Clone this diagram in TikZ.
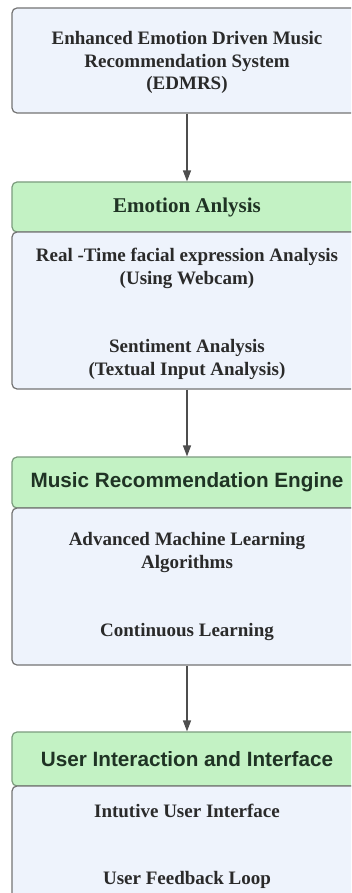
\documentclass[tikz,border=0pt]{standalone}
\usepackage{fontspec}
\setmainfont{Liberation Serif}
\newfontfamily\hsans{Liberation Sans}
\usetikzlibrary{arrows.meta}
\definecolor{bodyfill}{HTML}{EEF3FC}
\definecolor{bodyline}{HTML}{747474}
\definecolor{headfill}{HTML}{C3F2C4}
\definecolor{headline}{HTML}{7C9C7E}
\definecolor{txt}{HTML}{2A2A2A}
\definecolor{htxt}{HTML}{1F3324}
\definecolor{arrowc}{HTML}{4E4E4E}
\tikzset{
  bodybox/.style={draw=bodyline, fill=bodyfill, line width=1.2pt, rounded corners=5pt,
    minimum width=350pt, inner sep=0pt, shape=rectangle},
  headbox/.style={draw=headline, fill=headfill, line width=1.2pt, rounded corners=5pt,
    minimum width=350pt, inner sep=0pt, shape=rectangle, text=htxt},
  serifbf/.style={font=\fontsize{19}{22.5}\selectfont\bfseries, text=txt, align=center},
  serifhead/.style={font=\fontsize{21}{24}\selectfont\bfseries},
  sanshead/.style={font=\hsans\fontsize{20.7}{24}\selectfont\bfseries},
  flow/.style={draw=arrowc, line width=1.3pt, -{Triangle[length=11pt,width=8pt]}}
}
\begin{document}
\begin{tikzpicture}[x=1pt,y=-1pt]
\useasboundingbox (0,0) rectangle (351,893);
\clip (0,0) rectangle (351,893);
\fill[white] (0,0) rectangle (351,893);
% box 1
\node[bodybox, minimum height=105pt] (top) at (187,60.5) {};
\node[serifbf] (toptxt) at (187,62.5)
  {Enhanced Emotion Driven Music\\Recommendation System\\(EDMRS)};
% emotion analysis
\node[headbox, minimum height=50pt, serifhead] (h2) at (187,207) {Emotion Anlysis};
\node[bodybox, minimum height=157pt] (b2) at (187,310.5) {};
\node[serifbf] (t2a) at (187,268.5) {Real -Time facial expression Analysis\\(Using Webcam)};
\node[serifbf] (t2b) at (187,359.5) {Sentiment Analysis\\(Textual Input Analysis)};
% music recommendation engine
\node[headbox, minimum height=51pt, sanshead] (h3) at (187,482.5) {Music Recommendation Engine};
\node[bodybox, minimum height=157pt] (b3) at (187,586.5) {};
\node[serifbf] (t3a) at (187,552.5) {Advanced Machine Learning\\Algorithms};
\node[serifbf] (t3b) at (187,631.5) {Continuous Learning};
% user interaction
\node[headbox, minimum height=54pt, sanshead] (h4) at (187,759) {User Interaction and Interface};
\node[bodybox, minimum height=157pt] (b4) at (187,864.5) {};
\node[serifbf] (t4a) at (187,810.5) {Intutive User Interface};
\node[serifbf] (t4b) at (187,879.5) {User Feedback Loop};
% arrows
\draw[flow] (top.south) -- (h2.north);
\draw[flow] (b2.south) -- (h3.north);
\draw[flow] (b3.south) -- (h4.north);
\end{tikzpicture}
\end{document}
